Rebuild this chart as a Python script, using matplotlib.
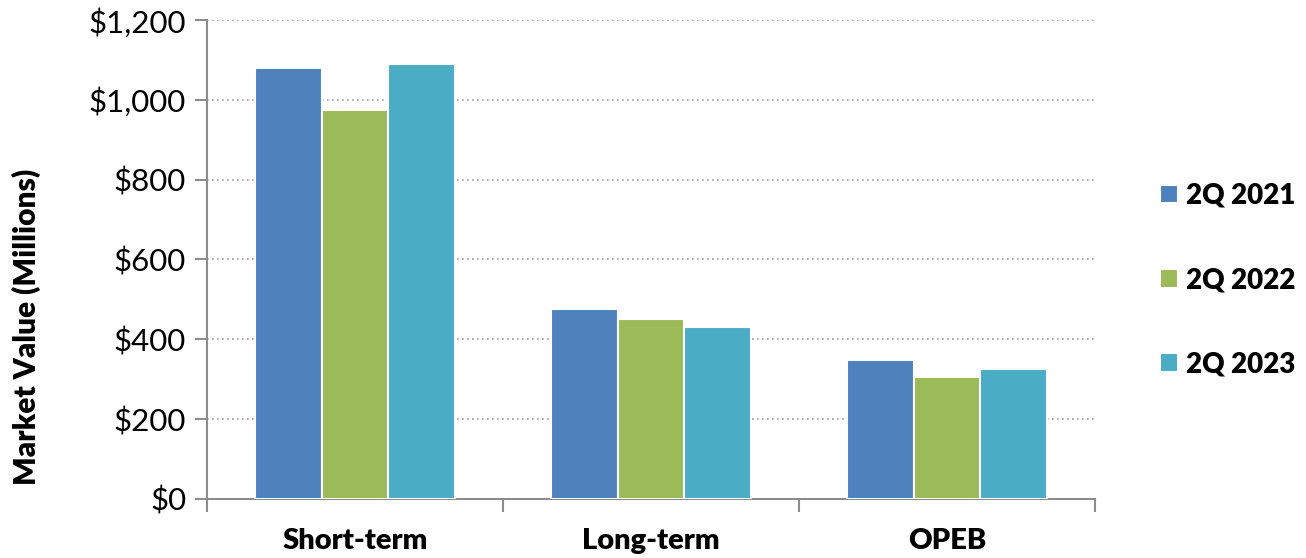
import numpy as np
import matplotlib.pyplot as plt

plt.rcParams['font.family'] = ['Lato', 'DejaVu Sans']

categories = ['Short-term', 'Long-term', 'OPEB']
series_names = ['2Q 2021', '2Q 2022', '2Q 2023']
values_2021 = [1079, 475, 348]
values_2022 = [975, 450, 306]
values_2023 = [1091, 431, 325]
colors = ['#4f81bd', '#9bbb59', '#4bacc6']

fig = plt.figure(figsize=(13.06, 5.58), dpi=100)
ax = fig.add_axes([207 / 1306, 1 - 499 / 558, (1095 - 207) / 1306, 479 / 558])

ind = np.arange(len(categories))
width = 0.225
for i, (name, vals) in enumerate(zip(series_names, [values_2021, values_2022, values_2023])):
    ax.bar(ind + (i - 1) * width, vals, width, color=colors[i], label=name,
           edgecolor='white', linewidth=1.5, zorder=3)

ax.set_xlim(-0.5, len(categories) - 0.5)
ax.set_ylim(0, 1200)
ax.set_yticks(range(0, 1201, 200))
ax.set_yticklabels(['${:,}'.format(v) for v in range(0, 1201, 200)], fontsize=22.5)

# category labels centred, ticks at the group boundaries
ax.set_xticks(ind)
ax.set_xticklabels(categories, fontsize=21, fontweight='heavy')
ax.tick_params(axis='x', length=0, pad=21)
ax.set_xticks(np.arange(-0.5, len(categories)), minor=True)
ax.tick_params(axis='x', which='minor', length=9, width=1.5, color='#8c8c8c')
ax.tick_params(axis='y', length=9, width=1.5, color='#8c8c8c', pad=6)

ax.grid(axis='y', linestyle=(0, (1, 2)), color='#a0a0a0', linewidth=1.2, zorder=0)
for side in ['top', 'right']:
    ax.spines[side].set_visible(False)
for side in ['left', 'bottom']:
    ax.spines[side].set_color('#8c8c8c')
    ax.spines[side].set_linewidth(1.5)

# y label sits a little below the axis middle
fig.text(26 / 1306, 1 - 327 / 558, 'Market Value (Millions)', rotation=90,
         ha='center', va='center', fontsize=21.5, fontweight='heavy')

leg = ax.legend(loc='center left', bbox_to_anchor=(1.045, 0.457), frameon=False,
                prop={'size': 20, 'weight': 'heavy'}, labelspacing=2.1,
                handlelength=0.65, handleheight=0.65, handletextpad=0.3)

fig.savefig('out.png', dpi=100)
